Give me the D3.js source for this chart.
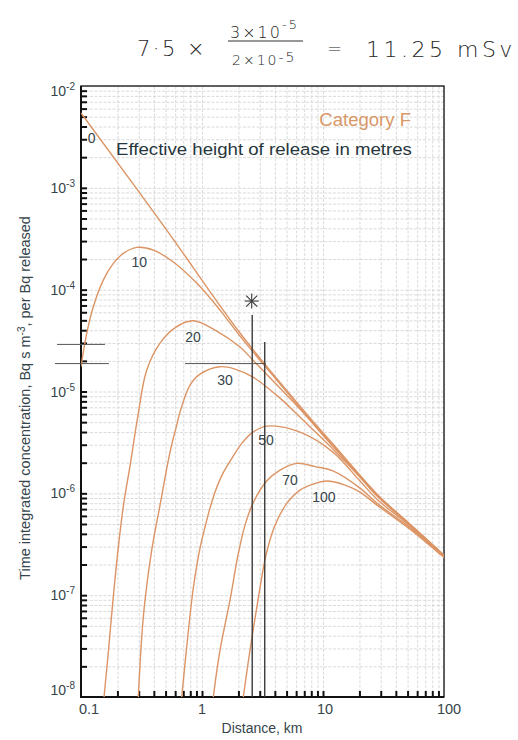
<!DOCTYPE html>
<html><head><meta charset="utf-8">
<script src="https://cdn.jsdelivr.net/npm/d3@7"></script>
<style>body{margin:0;background:#fff}svg{display:block}</style>
</head><body>
<svg id="chart" width="518" height="740"></svg>
<script>
// ---------- data (distance km, concentration Bq s m^-3 per Bq) ----------
const xTickValues = [0.1, 1, 10, 100];
const xTickLabels = ["0.1", "1", "10", "100"];
const yTickExponents = [-2, -3, -4, -5, -6, -7, -8];
const heightLabels = ["0", "10", "20", "30", "50", "70", "100"];

const h0 = [[0.1,5.43e-3],[0.511,3.85e-4],[2.061,3.75e-5],[6.455,7.19e-6],[13.82,2.54e-6],[27.95,9.82e-7],[52.36,4.98e-7],[100,2.47e-7]];
const h10 = [[0.1,1.75e-5],[0.1115,3.72e-5],[0.1264,6.79e-5],[0.1528,1.24e-4],[0.185,1.81e-4],[0.2237,2.27e-4],[0.289,2.60e-4],[0.396,2.45e-4],[0.579,1.87e-4],[0.904,1.16e-4],[1.409,6.30e-5],[2.061,3.50e-5],[3.648,1.55e-5],[6.455,6.95e-6],[13.82,2.48e-6],[27.95,9.71e-7],[52.36,4.95e-7],[100,2.46e-7]];
const h20 = [[0.155,1e-8],[0.1688,2.88e-8],[0.1838,8.93e-8],[0.2022,2.77e-7],[0.2245,7.66e-7],[0.254,1.85e-6],[0.296,5.86e-6],[0.349,1.62e-5],[0.450,2.99e-5],[0.610,4.29e-5],[0.847,4.95e-5],[1.281,4.01e-5],[2.061,2.73e-5],[2.639,2.03e-5],[4.167,1.156e-5],[6.455,6.72e-6],[11.42,3.11e-6],[20.22,1.476e-6],[27.95,9.60e-7],[52.36,4.91e-7],[100,2.45e-7]];
const h30 = [[0.2976,1e-8],[0.3176,3.87e-8],[0.338,8.93e-8],[0.384,2.77e-7],[0.450,7.66e-7],[0.544,2.54e-6],[0.618,4.68e-6],[0.658,6.27e-6],[0.796,1.156e-5],[0.963,1.48e-5],[1.409,1.75e-5],[1.874,1.66e-5],[2.639,1.385e-5],[4.412,8.61e-6],[6.834,5.24e-6],[11.42,2.91e-6],[20.22,1.44e-6],[27.95,9.39e-7],[52.36,4.87e-7],[100,2.44e-7]];
const h50 = [[0.680,1e-8],[0.747,3.08e-8],[0.847,1.17e-7],[0.963,2.90e-7],[1.059,4.66e-7],[1.164,7.16e-7],[1.281,1.027e-6],[1.463,1.51e-6],[1.770,2.22e-6],[2.141,3.11e-6],[2.639,3.99e-6],[3.445,4.57e-6],[6.455,3.99e-6],[12.09,2.54e-6],[20.22,1.32e-6],[27.95,8.77e-7],[52.36,4.76e-7],[100,2.42e-7]];
const h70 = [[1.240,1e-8],[1.409,2.88e-8],[1.703,8.93e-8],[1.984,2.47e-7],[2.267,4.87e-7],[2.639,8.01e-7],[3.424,1.32e-6],[4.412,1.69e-6],[6.062,1.97e-6],[8.59,1.83e-6],[12.09,1.66e-6],[20.22,1.125e-6],[27.95,8.01e-7],[52.36,4.60e-7],[100,2.38e-7]];
const h100 = [[2.194,1e-8],[2.493,2.88e-8],[2.902,8.93e-8],[3.380,2.47e-7],[4.012,4.87e-7],[5.040,8.01e-7],[6.455,1.075e-6],[8.266,1.23e-6],[10.79,1.32e-6],[15.20,1.204e-6],[20.22,1.027e-6],[27.95,7.66e-7],[52.36,4.45e-7],[100,2.34e-7]];
const curveLabelAt = [[0.1226,3.08e-3],[0.303,1.87e-4],[0.843,3.42e-5],[1.549,1.29e-5],[3.38,3.33e-6],[5.34,1.35e-6],[10.19,9.18e-7]];

// hand annotations (data coordinates)
const markDistances = [2.6, 3.3];
const markTops = [5.63e-5, 3.06e-5];
const markSegments = [[0.0634, 0.158, 2.9e-5], [0.061, 0.170, 1.88e-5], [0.724, 3.38, 1.88e-5]];
const starAt = [2.575, 7.73e-5];

// ---------- layout ----------
const series = [h0, h10, h20, h30, h50, h70, h100];
const M = {left: 81, right: 444, top: 86, bottom: 697};
const svg = d3.select("#chart");
const x = d3.scaleLog().domain([0.1, 100]).range([M.left, M.right]);
const y = d3.scaleLog().domain([1e-8, 1e-2]).range([M.bottom, M.top]);
const orange = "#dc9464";
const ink = "#36454b";

const xAll = [];
for (let e = -1; e < 2; e++) for (let k = 1; k < 10; k++) xAll.push(+(k * Math.pow(10, e)).toPrecision(3));
xAll.push(100);
const yAll = [];
for (let e = -8; e < -2; e++) for (let k = 1; k < 10; k++) yAll.push(+(k * Math.pow(10, e)).toPrecision(3));
yAll.push(1e-2);

// grid
svg.append("g").attr("transform", `translate(0,${M.bottom})`)
  .call(d3.axisBottom(x).tickValues(xAll).tickSize(-(M.bottom - M.top)).tickFormat(""))
  .call(g => g.select(".domain").remove())
  .selectAll("line").attr("stroke", "#d6d6d6").attr("stroke-width", 0.9).attr("stroke-dasharray", "3,1.5");
svg.append("g").attr("transform", `translate(${M.left},0)`)
  .call(d3.axisLeft(y).tickValues(yAll).tickSize(-(M.right - M.left)).tickFormat(""))
  .call(g => g.select(".domain").remove())
  .selectAll("line").attr("stroke", "#d6d6d6").attr("stroke-width", 0.9).attr("stroke-dasharray", "3,1.5");

// inward ticks
const xInner = xAll.filter(v => v > 0.1 && v < 100);
svg.append("g").attr("transform", `translate(0,${M.bottom})`)
  .call(d3.axisBottom(x).tickValues(xInner).tickSize(-6).tickFormat(""))
  .call(g => g.select(".domain").remove())
  .selectAll("line").attr("stroke", "#111").attr("stroke-width", 2);
const yInner = yAll.filter(v => v > 1e-8 && v < 1e-2);
svg.append("g").attr("transform", `translate(${M.left},0)`)
  .call(d3.axisLeft(y).tickValues(yInner).tickSize(-6).tickFormat(""))
  .call(g => g.select(".domain").remove())
  .selectAll("line").attr("stroke", "#111").attr("stroke-width", 2);

// frame
svg.append("rect").attr("x", M.left).attr("y", M.top).attr("width", M.right - M.left).attr("height", M.bottom - M.top)
  .attr("fill", "none").attr("stroke", "#222").attr("stroke-width", 1.4);
svg.append("path").attr("d", `M${M.left},${M.top}V${M.bottom}H${M.right}`).attr("fill", "none").attr("stroke", "#111").attr("stroke-width", 2);

// clip
svg.append("clipPath").attr("id", "plotclip").append("rect")
  .attr("x", M.left).attr("y", M.top).attr("width", M.right - M.left).attr("height", M.bottom - M.top);

// curves
const line = d3.line().x(d => x(d[0])).y(d => y(d[1])).curve(d3.curveCatmullRom.alpha(0.5));
svg.append("g").attr("clip-path", "url(#plotclip)").selectAll("path").data(series).join("path")
  .attr("d", line).attr("fill", "none").attr("stroke", orange).attr("stroke-width", 1.4);

// curve labels
svg.append("g").selectAll("text").data(heightLabels).join("text")
  .attr("x", (d, i) => x(curveLabelAt[i][0])).attr("y", (d, i) => y(curveLabelAt[i][1]) + 5)
  .attr("text-anchor", "middle").attr("font-family", "Liberation Sans, Arial, sans-serif")
  .attr("font-size", 14).attr("fill", ink).text(d => d);

// x tick labels
const xLabelDx = [8, 0, 2, 5];
svg.append("g").selectAll("text").data(xTickValues).join("text")
  .attr("x", (d, i) => x(d) + xLabelDx[i]).attr("y", M.bottom + 17)
  .attr("text-anchor", "middle").attr("font-family", "Liberation Sans, Arial, sans-serif")
  .attr("font-size", 14.5).attr("fill", ink).text((d, i) => xTickLabels[i]);

// y tick labels
const yl = svg.append("g").selectAll("text").data(yTickExponents).join("text")
  .attr("x", M.left - 6)
  .attr("y", d => Math.min(Math.max(y(Math.pow(10, d)) + 5, M.top + 10), M.bottom - 2))
  .attr("text-anchor", "end").attr("font-family", "Liberation Sans, Arial, sans-serif")
  .attr("font-size", 14).attr("fill", ink);
yl.append("tspan").text("10");
yl.append("tspan").attr("dy", -6).attr("font-size", 10).text(d => "" + d);

// axis titles
svg.append("text").attr("x", 262).attr("y", 733).attr("text-anchor", "middle")
  .attr("font-family", "Liberation Sans, Arial, sans-serif").attr("font-size", 14).attr("fill", ink)
  .text("Distance, km");
const yt = svg.append("text").attr("transform", "translate(30,398) rotate(-90)").attr("text-anchor", "middle")
  .attr("font-family", "Liberation Sans, Arial, sans-serif").attr("font-size", 14.5).attr("fill", ink);
yt.append("tspan").text("Time integrated concentration, Bq s m");
yt.append("tspan").attr("dy", -5).attr("font-size", 10).text("-3");
yt.append("tspan").attr("dy", 5).text(", per Bq released");

// in-plot titles
svg.append("text").attr("transform", "translate(411,126) scale(1.06,1)").attr("text-anchor", "end")
  .attr("font-family", "Liberation Sans, Arial, sans-serif").attr("font-size", 17.5).attr("fill", "#d99869")
  .text("Category F");
svg.append("text").attr("transform", "translate(116,155) scale(1.11,1)")
  .attr("font-family", "Liberation Sans, Arial, sans-serif").attr("font-size", 16.8).attr("fill", "#26363c")
  .text("Effective height of release in metres");

// hand annotations
const hand = svg.append("g").attr("stroke", "#3a3a3a").attr("fill", "none");
markDistances.forEach((d, i) => {
  hand.append("line").attr("x1", x(d)).attr("x2", x(d)).attr("y1", y(markTops[i])).attr("y2", M.bottom)
    .attr("stroke-width", 1.4);
});
markSegments.forEach(s => {
  hand.append("line").attr("x1", x(s[0])).attr("x2", x(s[1])).attr("y1", y(s[2])).attr("y2", y(s[2]))
    .attr("stroke-width", 1).attr("stroke", "#555");
});
const sx = x(starAt[0]), sy = y(starAt[1]);
[[0, -7.5, 0, 7.5], [-7, 0, 7, 0], [-5.5, -5.5, 5.5, 5.5], [-5.5, 5.5, 5.5, -5.5]].forEach(s => {
  hand.append("line").attr("x1", sx + s[0]).attr("y1", sy + s[1]).attr("x2", sx + s[2]).attr("y2", sy + s[3])
    .attr("stroke-width", 1.1);
});

// handwritten calculation
const hw = svg.append("g").attr("font-family", "'DejaVu Sans ExtraLight','DejaVu Sans',sans-serif")
  .attr("font-weight", 200).attr("fill", "#262626");
hw.append("text").attr("x", 137).attr("y", 56).attr("font-size", 21).attr("letter-spacing", 2.5).text("7·5 ×");
const num = hw.append("text").attr("x", 230).attr("y", 38).attr("font-size", 16).attr("letter-spacing", 2);
num.append("tspan").text("3×10");
num.append("tspan").attr("dy", -9).attr("font-size", 13).text("-5");
hw.append("line").attr("x1", 228).attr("x2", 303).attr("y1", 41).attr("y2", 41).attr("stroke", "#333").attr("stroke-width", 1.1);
const den = hw.append("text").attr("x", 232).attr("y", 65).attr("font-size", 14).attr("letter-spacing", 2);
den.append("tspan").text("2×10");
den.append("tspan").attr("dy", -3).text("-5");
hw.append("text").attr("x", 327).attr("y", 55).attr("font-size", 18).text("=");
hw.append("text").attr("x", 366).attr("y", 57).attr("font-size", 22).attr("letter-spacing", 3.5).text("11.25 mSv");
</script>
</body></html>
